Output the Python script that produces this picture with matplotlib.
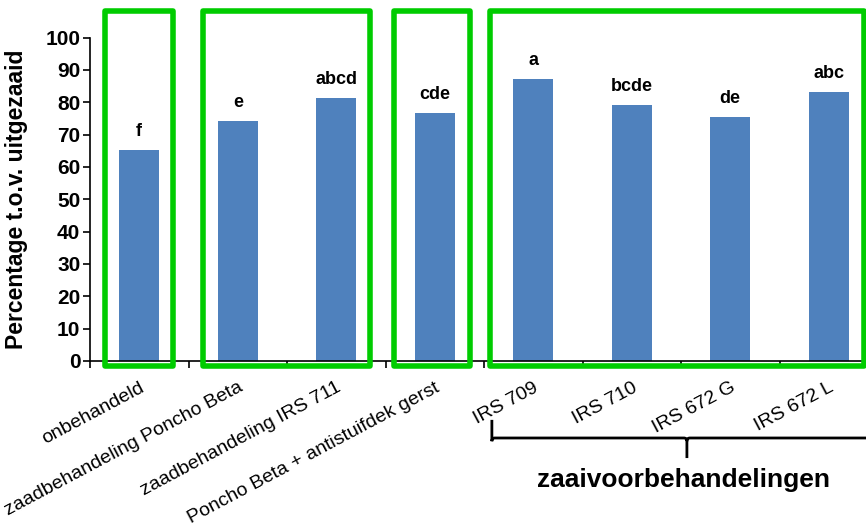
import matplotlib.pyplot as plt
from matplotlib.patches import Rectangle, PathPatch
from matplotlib.path import Path

plt.rcParams['font.family'] = ['Liberation Sans', 'DejaVu Sans']

# categories and values
categories = ['onbehandeld', 'zaadbehandeling Poncho Beta', 'zaadbehandeling IRS 711',
              'Poncho Beta + antistuifdek gerst', 'IRS 709', 'IRS 710', 'IRS 672 G', 'IRS 672 L']
values = [65.2, 74.3, 81.3, 76.8, 87.2, 79.2, 75.4, 83.2]
letters = ['f', 'e', 'abcd', 'cde', 'a', 'bcde', 'de', 'abc']

# green boxes around groups: (first index, last index)
groups = [(0, 0), (1, 2), (3, 3), (4, 7)]
group_title = 'zaaivoorbehandelingen'

fig = plt.figure(figsize=(8.66, 5.23), dpi=100)
ax = fig.add_axes([90 / 866, 162 / 523, 788 / 866, 323.5 / 523])

x = list(range(len(categories)))
ax.bar(x, values, width=0.41, color='#4F81BD', zorder=2)

for xi, v, lab in zip(x, values, letters):
    ax.text(xi, v + 3, lab, ha='center', va='bottom', fontsize=13, fontweight='bold')

ax.set_xlim(-0.5, len(categories) - 0.5)
ax.set_ylim(0, 100)
ax.set_yticks(range(0, 101, 10))
ax.tick_params(axis='y', labelsize=15, length=5, width=1.2, pad=2)
for t in ax.get_yticklabels():
    t.set_fontweight('bold')

ax.set_xticks(x)
ax.set_xticklabels(categories, rotation=28, ha='right', va='top',
                   rotation_mode='anchor', fontsize=14)
ax.tick_params(axis='x', which='major', length=0, pad=13)
ax.set_xticks([i - 0.5 for i in range(len(categories) + 1)], minor=True)
ax.tick_params(axis='x', which='minor', length=5, width=1.2)

for s in ['top', 'right']:
    ax.spines[s].set_visible(False)
ax.spines['left'].set_linewidth(1.2)
ax.spines['bottom'].set_linewidth(1.2)

ax.set_ylabel('Percentage t.o.v. uitgezaaid', fontsize=16.5, fontweight='bold')
ax.yaxis.set_label_coords(-0.079, 0.5)

# green group boxes
pads = [(0.35, 0.34), (0.35, 0.34), (0.41, 0.36), (0.44, 0.36)]
for (a, b), (pl, pr) in zip(groups, pads):
    r = Rectangle((a - pl, -1.6), (b + pr) - (a - pl), 109.8, fill=False,
                  edgecolor='#00CC00', linewidth=4, joinstyle='round',
                  clip_on=False, zorder=3)
    ax.add_patch(r)

# brace below the last group
tr = ax.get_xaxis_transform()
xl, xm, xr = 3.58, 5.56, 7.8
y0, y1, y2 = -0.182, -0.238, -0.300
c = 0.03
verts = [(xl, y0), (xl, y1 - 0.01), (xl, y1), (xl + c, y1),
         (xm - c, y1), (xm, y1), (xm, y1 - 0.01), (xm, y2),
         (xm, y1 - 0.01), (xm, y1), (xm + c, y1), (xr, y1)]
codes = [Path.MOVETO, Path.LINETO, Path.CURVE3, Path.CURVE3,
         Path.LINETO, Path.CURVE3, Path.CURVE3, Path.LINETO,
         Path.MOVETO, Path.CURVE3, Path.CURVE3, Path.LINETO]
ax.add_patch(PathPatch(Path(verts, codes), transform=tr, fill=False,
                       edgecolor='black', linewidth=2, clip_on=False))
ax.text(5.53, -0.368, group_title, transform=tr, ha='center', va='center',
        fontsize=19, fontweight='bold')

fig.savefig('out.png', dpi=100)
